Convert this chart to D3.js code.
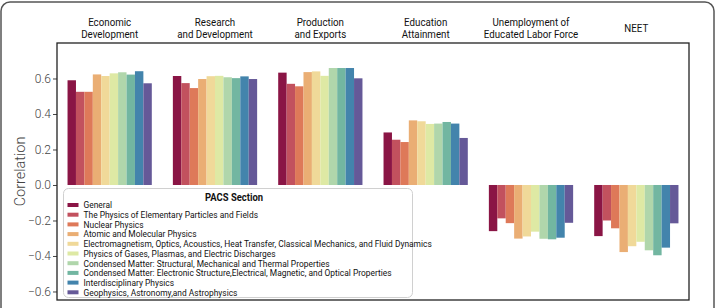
<!DOCTYPE html>
<html>
<head>
<meta charset="utf-8">
<script src="https://cdn.jsdelivr.net/npm/d3@7"></script>
<style>
  body { margin: 0; background: #fff; }
  text { font-family: Roboto, "Noto Sans", sans-serif; }
</style>
</head>
<body>
<div id="chart"></div>
<script>
// categories (facet titles) and PACS sections
const categories = [
  ["Economic", "Development"],
  ["Research", "and Development"],
  ["Production", "and Exports"],
  ["Education", "Attainment"],
  ["Unemployment of", "Educated Labor Force"],
  ["NEET"]
];
const sections = [
  "General",
  "The Physics of Elementary Particles and Fields",
  "Nuclear Physics",
  "Atomic and Molecular Physics",
  "Electromagnetism, Optics, Acoustics, Heat Transfer, Classical Mechanics, and Fluid Dynamics",
  "Physics of Gases, Plasmas, and Electric Discharges",
  "Condensed Matter: Structural, Mechanical and Thermal Properties",
  "Condensed Matter: Electronic Structure,Electrical, Magnetic, and Optical Properties",
  "Interdisciplinary Physics",
  "Geophysics, Astronomy,and Astrophysics"
];
// one array per facet, in section order
const economic     = [0.590, 0.525, 0.525, 0.623, 0.614, 0.629, 0.635, 0.622, 0.641, 0.573];
const research     = [0.614, 0.574, 0.546, 0.597, 0.613, 0.615, 0.607, 0.602, 0.612, 0.597];
const production   = [0.633, 0.570, 0.556, 0.636, 0.640, 0.615, 0.659, 0.659, 0.659, 0.601];
const education    = [0.296, 0.255, 0.242, 0.364, 0.359, 0.344, 0.346, 0.355, 0.346, 0.265];
const unemployment = [-0.260, -0.188, -0.215, -0.302, -0.290, -0.263, -0.303, -0.306, -0.297, -0.213];
const neet         = [-0.288, -0.200, -0.244, -0.378, -0.345, -0.320, -0.368, -0.396, -0.353, -0.216];
const seriesValues = [economic, research, production, education, unemployment, neet];
const yTicks = [-0.6, -0.4, -0.2, 0.0, 0.2, 0.4, 0.6];

const W = 723, H = 308;
const margin = { top: 43, right: 34, bottom: 8, left: 57 };

// seaborn-like desaturated spectral
const colors = d3.schemeSpectral[10].map(c => {
  const h = d3.hsl(c);
  h.s *= 0.75;
  return h.formatHex();
});

const svg = d3.select("#chart").append("svg")
  .attr("width", W).attr("height", H);

// outer rounded frame
svg.append("rect")
  .attr("x", 1).attr("y", 2)
  .attr("width", 713).attr("height", 320)
  .attr("rx", 9)
  .attr("fill", "none").attr("stroke", "#555").attr("stroke-width", 1.5);

const x0 = d3.scaleBand()
  .domain(d3.range(categories.length))
  .range([margin.left, W - margin.right])
  .paddingInner(0.2).paddingOuter(0.1);
const x1 = d3.scaleBand()
  .domain(d3.range(sections.length))
  .range([0, x0.bandwidth()]);
const y = d3.scaleLinear()
  .domain([-0.648, 0.8])
  .range([H - margin.bottom, margin.top]);

// bars
const groups = svg.append("g").selectAll("g")
  .data(seriesValues)
  .join("g")
  .attr("transform", (d, i) => `translate(${x0(i)},0)`);
groups.selectAll("rect")
  .data(d => d)
  .join("rect")
  .attr("x", (d, i) => x1(i))
  .attr("width", x1.bandwidth())
  .attr("y", d => y(Math.max(0, d)))
  .attr("height", d => Math.abs(y(d) - y(0)))
  .attr("fill", (d, i) => colors[i]);

// y axis
const yAxis = svg.append("g")
  .attr("transform", `translate(${margin.left},0)`)
  .call(d3.axisLeft(y).tickValues(yTicks).tickSize(4).tickPadding(2)
    .tickFormat(d => d3.format(".1f")(d).replace("-", "\u2212")));
yAxis.select(".domain").remove();
yAxis.selectAll("line").attr("stroke", "#444");
yAxis.selectAll("text")
  .attr("font-size", 12).attr("fill", "#444").attr("font-weight", 300);

// plot frame
svg.append("rect")
  .attr("x", margin.left).attr("y", margin.top)
  .attr("width", W - margin.right - margin.left)
  .attr("height", H - margin.bottom - margin.top)
  .attr("fill", "none").attr("stroke", "#222").attr("stroke-width", 1.3);

// y label
svg.append("text")
  .attr("transform", `translate(25,${(margin.top + H - margin.bottom) / 2}) rotate(-90)`)
  .attr("text-anchor", "middle")
  .attr("font-size", 14.5).attr("font-weight", 300).attr("fill", "#444")
  .text("Correlation");

// facet titles, one text per line
categories.forEach((lines, i) => {
  const cx = x0(i) + x0.bandwidth() / 2;
  const top = lines.length === 1 ? 32 : 26;
  lines.forEach((l, j) => {
    svg.append("text")
      .attr("transform", `translate(${cx},${top + j * 11.5}) scale(0.92,1)`)
      .attr("text-anchor", "middle")
      .attr("font-size", 10.6).attr("fill", "#111")
      .text(l);
  });
});

// legend
const lg = svg.append("g");
lg.append("rect")
  .attr("x", 63.5).attr("y", 188.5)
  .attr("width", 349).attr("height", 109)
  .attr("rx", 5)
  .attr("fill", "#fff").attr("fill-opacity", 0.9)
  .attr("stroke", "#d0d0d0").attr("stroke-width", 1);
lg.append("text")
  .attr("transform", `translate(234,200.5) scale(0.9,1)`)
  .attr("text-anchor", "middle")
  .attr("font-size", 10.5).attr("font-weight", 700).attr("fill", "#111")
  .text("PACS Section");
const items = lg.selectAll("g.item")
  .data(sections)
  .join("g")
  .attr("class", "item")
  .attr("transform", (d, i) => `translate(67.5,${205 + i * 9.7})`);
items.append("rect")
  .attr("x", 0).attr("y", -2)
  .attr("width", 11).attr("height", 4)
  .attr("fill", (d, i) => colors[i]);
items.append("text")
  .attr("transform", `translate(16,3.3) scale(0.885,1)`)
  .attr("font-size", 9.5).attr("fill", "#111")
  .text(d => d);
</script>
</body>
</html>
